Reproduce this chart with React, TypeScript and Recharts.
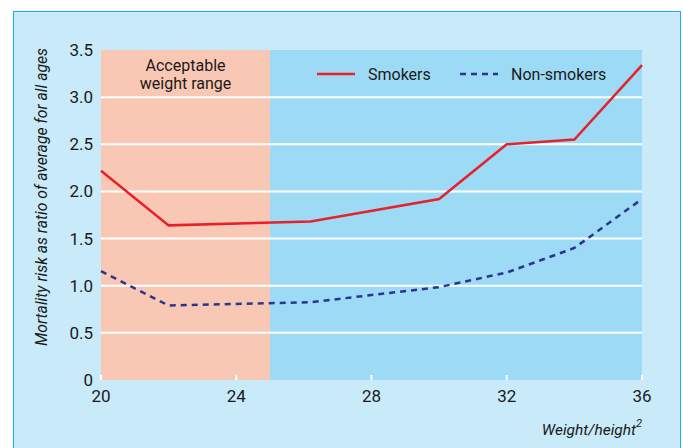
import { LineChart, Line, XAxis, YAxis, ReferenceArea, ReferenceLine } from 'recharts'

const bmi = [20, 22, 26.2, 30, 32, 34, 36]
const smokers = [2.22, 1.64, 1.68, 1.92, 2.5, 2.55, 3.34]
const nonSmokers = [1.155, 0.79, 0.825, 0.985, 1.14, 1.4, 1.92]
const xTicks = [20, 24, 28, 32, 36]
const yTicks = [0, 0.5, 1, 1.5, 2, 2.5, 3, 3.5]
const gridLines = [0.5, 1, 1.5, 2, 2.5, 3]
const acceptableRange = [20, 25]

const data = bmi.map((x, i) => ({ x, smokers: smokers[i], nonSmokers: nonSmokers[i] }))

const FONT = '"Roboto", "Liberation Sans", sans-serif'
const RED = '#e8202a'
const NAVY = '#2b3590'
const INK = '#1a1a1a'

function RangeLabel(props: any) {
  const vb = props.viewBox || {}
  const cx = vb.x + vb.width / 2
  return (
    <text x={cx} y={vb.y + 21} textAnchor="middle" fontFamily={FONT} fontSize={16} fill={INK}>
      <tspan x={cx}>Acceptable</tspan>
      <tspan x={cx} dy={18}>weight range</tspan>
    </text>
  )
}

function YTitle(props: any) {
  const vb = props.viewBox || {}
  const cy = vb.y + vb.height / 2 - 18
  return (
    <text
      x={41}
      y={cy}
      transform={`rotate(-90 41 ${cy})`}
      textAnchor="middle"
      dominantBaseline="central"
      fontFamily={FONT}
      fontSize={17}
      fontStyle="italic"
      fill={INK}
      textLength={298}
      lengthAdjust="spacingAndGlyphs"
    >
      Mortality risk as ratio of average for all ages
    </text>
  )
}

function XTitle(props: any) {
  const vb = props.viewBox || {}
  const right = vb.x + vb.width
  return (
    <text x={right} y={435} textAnchor="end" fontFamily={FONT} fontSize={15.5} fontStyle="italic" fill={INK}>
      Weight/height
      <tspan dy={-8} fontSize={11}>2</tspan>
    </text>
  )
}

export default function App() {
  return (
    <div style={{ position: 'absolute', left: 0, top: 0, width: 683, height: 448, background: '#fff', overflow: 'hidden' }}>
      <div
        style={{
          position: 'absolute',
          left: 13,
          top: 11,
          width: 666,
          height: 450,
          background: '#c8eaf9',
          border: '1.5px solid #1ab0f0',
        }}
      />
      <div style={{ position: 'absolute', left: 0, top: 0 }}>
        <LineChart width={683} height={448} data={data} margin={{ top: 50, right: 41, bottom: 38, left: 56 }}>
          <ReferenceArea x1={acceptableRange[0]} x2={acceptableRange[1]} y1={0} y2={3.5} fill="#f9c8b4" fillOpacity={1} stroke="none" label={<RangeLabel />} />
          <ReferenceArea x1={acceptableRange[1]} x2={36} y1={0} y2={3.5} fill="#9ddaf6" fillOpacity={1} stroke="none" />
          {gridLines.map((g) => (
            <ReferenceLine key={g} y={g} stroke="#ffffff" strokeWidth={2} />
          ))}
          <XAxis
            dataKey="x"
            type="number"
            domain={[20, 36]}
            ticks={xTicks}
            axisLine={false}
            tickLine={{ stroke: '#ffffff', strokeWidth: 2 }}
            tickSize={-5}
            tick={{ fontFamily: FONT, fontSize: 17, fill: INK, dy: 13 }}
            height={30}
            label={<XTitle />}
          />
          <YAxis
            type="number"
            domain={[0, 3.5]}
            ticks={yTicks}
            axisLine={false}
            tickLine={false}
            width={45}
            tick={{ fontFamily: FONT, fontSize: 17, fill: INK }}
            tickFormatter={(v: number) => (v === 0 ? '0' : v.toFixed(1))}
            label={<YTitle />}
          />
          <Line type="linear" dataKey="smokers" stroke={RED} strokeWidth={2.5} dot={false} isAnimationActive={false} />
          <Line type="linear" dataKey="nonSmokers" stroke={NAVY} strokeWidth={2.5} strokeDasharray="6 5" dot={false} isAnimationActive={false} />
        </LineChart>
      </div>
      <svg width={300} height={24} style={{ position: 'absolute', left: 317, top: 62, overflow: 'visible' }}>
        <line x1={0} x2={38} y1={12} y2={12} stroke={RED} strokeWidth={2.5} />
        <text x={51} y={18} fontFamily={FONT} fontSize={16} fill={INK}>Smokers</text>
        <line x1={143} x2={181} y1={12} y2={12} stroke={NAVY} strokeWidth={2.5} strokeDasharray="6 5" />
        <text x={194} y={18} fontFamily={FONT} fontSize={16} fill={INK}>Non-smokers</text>
      </svg>
    </div>
  )
}
